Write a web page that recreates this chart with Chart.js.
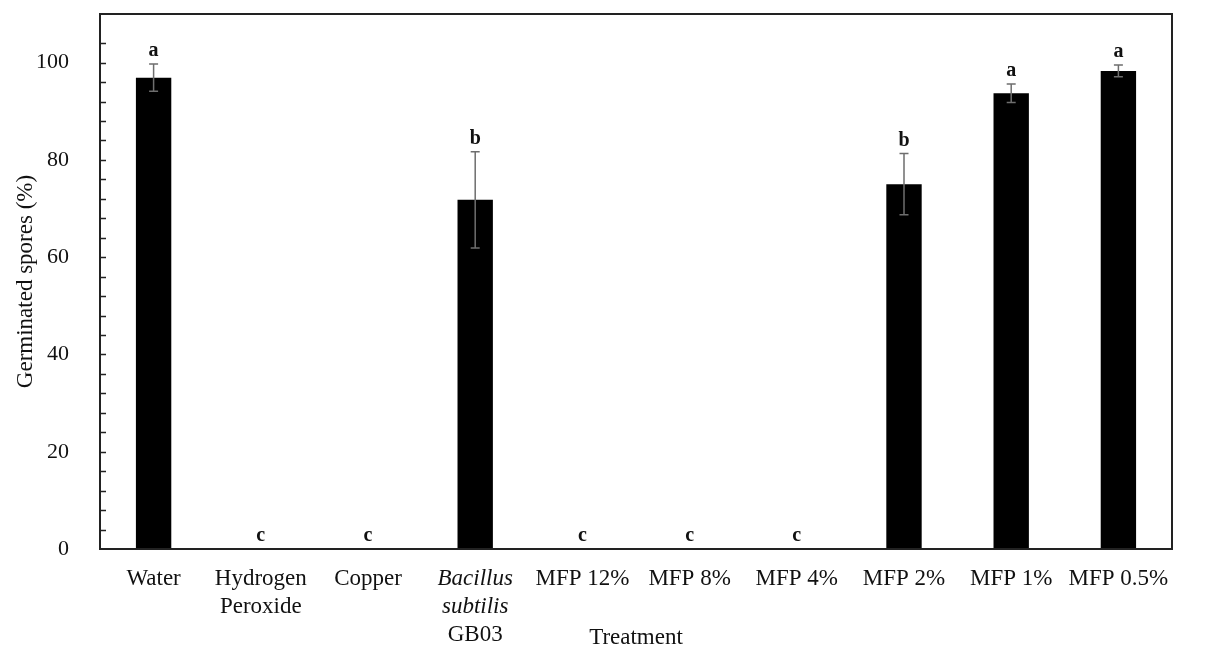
<!DOCTYPE html>
<html>
<head>
<meta charset="utf-8">
<script src="https://cdn.jsdelivr.net/npm/chart.js@4.4.1/dist/chart.umd.min.js"></script>
<style>
  html, body { margin: 0; padding: 0; background: #fff; }
  canvas { display: block; }
</style>
</head>
<body>
<canvas id="chart" width="1205" height="649"></canvas>
<script>
// germination of spores per treatment, mean and error, with letter groups
const treatments = [['Water'], ['Hydrogen', 'Peroxide'], ['Copper'], ['Bacillus', 'subtilis', 'GB03'], ['MFP 12%'], ['MFP 8%'], ['MFP 4%'], ['MFP 2%'], ['MFP 1%'], ['MFP 0.5%']]
const italicWords = ['Bacillus', 'subtilis']
const germinated = [96.9, 0, 0, 71.8, 0, 0, 0, 75.0, 93.7, 98.3]
const errors = [2.8, 0, 0, 9.9, 0, 0, 0, 6.3, 1.9, 1.2]
const groups = ['a', 'c', 'c', 'b', 'c', 'c', 'c', 'b', 'a', 'a']
const yLabels = [0, 20, 40, 60, 80, 100]

const serif = '"Liberation Serif", "Times New Roman", serif'

const decorations = {
  id: 'decorations',
  afterDatasetsDraw(chart) {
    const { ctx, chartArea: area, scales: { x, y } } = chart
    ctx.save()

    // error bars
    ctx.strokeStyle = '#6e6e6e'
    ctx.lineWidth = 1.5
    germinated.forEach((v, i) => {
      if (!errors[i]) return
      const cx = x.getPixelForValue(i)
      const hi = y.getPixelForValue(v + errors[i])
      const lo = y.getPixelForValue(v - errors[i])
      ctx.beginPath()
      ctx.moveTo(cx, hi); ctx.lineTo(cx, lo)
      ctx.moveTo(cx - 4.5, hi); ctx.lineTo(cx + 4.5, hi)
      ctx.moveTo(cx - 4.5, lo); ctx.lineTo(cx + 4.5, lo)
      ctx.stroke()
    })

    // significance letters
    ctx.fillStyle = '#111'
    ctx.font = `bold 20px ${serif}`
    ctx.textAlign = 'center'
    ctx.textBaseline = 'alphabetic'
    groups.forEach((g, i) => {
      const top = y.getPixelForValue(germinated[i] + errors[i])
      ctx.fillText(g, x.getPixelForValue(i), top - 8)
    })

    // frame and inward ticks
    ctx.strokeStyle = '#222'
    ctx.lineWidth = 2
    ctx.strokeRect(area.left, area.top, area.right - area.left, area.bottom - area.top)
    ctx.lineWidth = 1.5
    ctx.beginPath()
    y.ticks.forEach((t) => {
      if (t.value <= 0 || t.value >= y.max) return
      const py = Math.round(y.getPixelForValue(t.value)) + 0.5
      ctx.moveTo(area.left, py)
      ctx.lineTo(area.left + 6, py)
    })
    ctx.stroke()

    // category labels
    ctx.fillStyle = '#111'
    ctx.textBaseline = 'middle'
    treatments.forEach((lines, i) => {
      const cx = x.getPixelForValue(i)
      lines.forEach((line, j) => {
        ctx.font = `${italicWords.includes(line) ? 'italic ' : ''}23px ${serif}`
        ctx.fillText(line, cx, area.bottom + 30 + j * 28)
      })
    })

    ctx.font = `23px ${serif}`
    ctx.fillText('Treatment', (area.left + area.right) / 2, area.bottom + 89)
    ctx.restore()
  },
}

new Chart(document.getElementById('chart'), {
  type: 'bar',
  data: {
    labels: treatments,
    datasets: [{
      data: germinated,
      backgroundColor: '#000',
      borderWidth: 0,
      barPercentage: 0.33,
      categoryPercentage: 1,
    }],
  },
  options: {
    responsive: false,
    animation: false,
    layout: { padding: { top: 14, right: 33 } },
    plugins: {
      legend: { display: false },
      tooltip: { enabled: false },
    },
    scales: {
      x: {
        grid: { display: false },
        border: { display: false },
        ticks: { display: false },
        afterFit: (scale) => {
          scale.height = 100
          scale.paddingLeft = 0
          scale.paddingRight = 0
        },
      },
      y: {
        min: 0,
        max: 110,
        grid: { display: false },
        border: { display: false },
        ticks: {
          stepSize: 4,
          autoSkip: false,
          padding: 23,
          color: '#111',
          font: { family: serif, size: 22 },
          callback: (v) => (yLabels.includes(v) ? v : ''),
        },
        title: {
          display: true,
          text: 'Germinated spores (%)',
          color: '#111',
          font: { family: serif, size: 23 },
          padding: { top: 12, bottom: 0 },
        },
        afterFit: (scale) => {
          scale.width = 100
          scale.paddingTop = 0
          scale.paddingBottom = 0
        },
      },
    },
  },
  plugins: [decorations],
})
</script>
</body>
</html>
